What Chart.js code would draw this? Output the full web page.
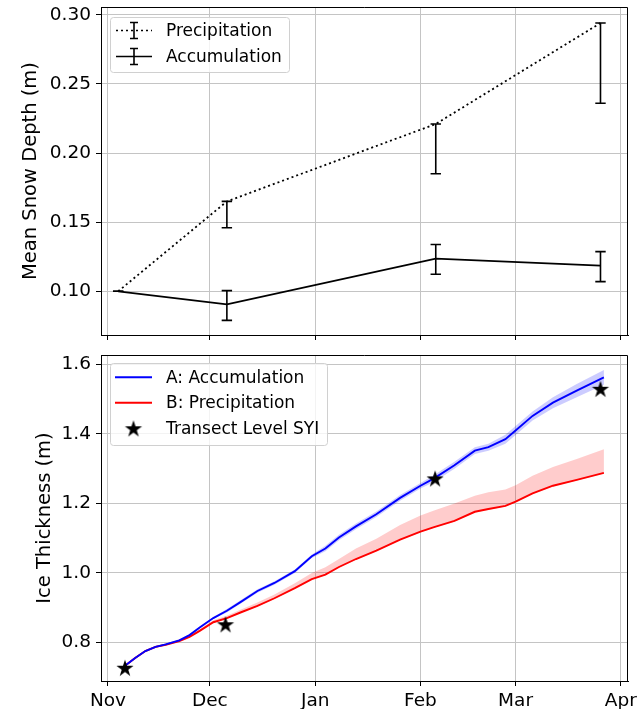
<!DOCTYPE html>
<html>
<head>
<meta charset="utf-8">
<script src="https://cdn.jsdelivr.net/npm/chart.js@4/dist/chart.umd.min.js"></script>
<style>
  html, body { margin: 0; padding: 0; background: #fff; }
  #wrap { position: relative; width: 639px; height: 709px; overflow: hidden; }
  canvas { position: absolute; left: 0; }
  #c1 { top: 0; }
  #c2 { top: 345px; }
</style>
</head>
<body>
<div id="wrap">
  <canvas id="c1" width="639" height="345"></canvas>
  <canvas id="c2" width="639" height="364"></canvas>
</div>
<script>
// ---------- DATA (days since 1 Nov) ----------
const monthTicks = [0, 30, 61, 92, 120, 151];
const monthLabels = ['Nov', 'Dec', 'Jan', 'Feb', 'Mar', 'Apr'];
const snowTicks = [0.10, 0.15, 0.20, 0.25, 0.30];
const iceTicks = [0.8, 1.0, 1.2, 1.4, 1.6];

// top panel: mean snow depth
const snowDays = [3, 35, 96.5, 145];
const precipMean = [0.100, 0.165, 0.221, 0.294];
const precipLow  = [0.100, 0.146, 0.185, 0.236];
const precipHigh = [0.100, 0.165, 0.221, 0.294];
const accumMean  = [0.100, 0.0905, 0.1236, 0.1186];
const accumLow   = [0.100, 0.079, 0.1123, 0.107];
const accumHigh  = [0.100, 0.1005, 0.1338, 0.1287];

// bottom panel: ice thickness
const iceDays = [5, 8, 11, 14, 17, 21, 24, 27, 31, 35, 39, 44, 49, 55, 60, 64, 68, 73, 79, 86, 92, 96, 102, 108, 112, 117, 120, 125, 131, 138, 146];
const accumIce = [0.733, 0.755, 0.775, 0.787, 0.794, 0.806, 0.821, 0.843, 0.870, 0.891, 0.916, 0.948, 0.971, 1.005, 1.048, 1.070, 1.102, 1.134, 1.169, 1.216, 1.251, 1.272, 1.310, 1.352, 1.362, 1.385, 1.410, 1.452, 1.490, 1.525, 1.563];
const accumIceUpper = [0.736, 0.758, 0.778, 0.790, 0.797, 0.809, 0.824, 0.846, 0.873, 0.896, 0.921, 0.953, 0.976, 1.010, 1.053, 1.078, 1.110, 1.142, 1.177, 1.224, 1.259, 1.282, 1.320, 1.362, 1.372, 1.398, 1.423, 1.465, 1.506, 1.544, 1.584];
const accumIceLower = [0.730, 0.752, 0.772, 0.784, 0.791, 0.803, 0.818, 0.840, 0.867, 0.886, 0.911, 0.943, 0.966, 1.000, 1.043, 1.062, 1.094, 1.126, 1.161, 1.208, 1.243, 1.262, 1.300, 1.342, 1.352, 1.372, 1.397, 1.439, 1.474, 1.506, 1.542];
const precipIce = [0.733, 0.755, 0.775, 0.787, 0.793, 0.804, 0.816, 0.833, 0.858, 0.870, 0.886, 0.905, 0.927, 0.956, 0.982, 0.995, 1.017, 1.040, 1.064, 1.096, 1.119, 1.132, 1.150, 1.176, 1.184, 1.193, 1.205, 1.229, 1.251, 1.268, 1.288];
const precipIceUpper = [0.735, 0.757, 0.777, 0.789, 0.796, 0.808, 0.821, 0.838, 0.864, 0.877, 0.894, 0.915, 0.938, 0.970, 1.000, 1.016, 1.040, 1.070, 1.098, 1.138, 1.165, 1.180, 1.200, 1.222, 1.232, 1.240, 1.252, 1.280, 1.305, 1.328, 1.356];
const precipIceLower = [0.731, 0.753, 0.773, 0.785, 0.791, 0.802, 0.814, 0.831, 0.856, 0.868, 0.884, 0.903, 0.925, 0.954, 0.980, 0.993, 1.015, 1.038, 1.062, 1.094, 1.117, 1.130, 1.148, 1.174, 1.182, 1.191, 1.203, 1.227, 1.249, 1.266, 1.286];

const syiDays = [5, 34.6, 96.3, 145];
const syiIce = [0.727, 0.852, 1.272, 1.530];

// ---------- helpers ----------
const FONT = 'DejaVu Sans';
const pts = (xs, ys) => xs.map((x, i) => ({x: x, y: ys[i]}));

function makeStar(R) {
  const s = Math.ceil(R * 2 + 2);
  const c = document.createElement('canvas');
  c.width = s; c.height = s;
  const g = c.getContext('2d');
  const cx = s / 2, cy = s / 2 + R * 0.1;
  const r = R * 0.381966;
  g.beginPath();
  for (let k = 0; k < 10; k++) {
    const rad = k % 2 === 0 ? R : r;
    const a = -Math.PI / 2 + k * Math.PI / 5;
    const px = cx + rad * Math.cos(a), py = cy + rad * Math.sin(a);
    if (k === 0) g.moveTo(px, py); else g.lineTo(px, py);
  }
  g.closePath();
  g.fillStyle = '#000';
  g.fill();
  return c;
}
const starImg = makeStar(9);

// top and right spines (left/bottom come from the axes' borders)
const frame = {
  id: 'frame',
  afterDraw(chart) {
    const {ctx, chartArea: a} = chart;
    ctx.save();
    ctx.strokeStyle = '#000';
    ctx.lineWidth = 1;
    const L = Math.round(a.left), R = Math.round(a.right) - 0.5, T = Math.round(a.top) + 0.5, B = Math.round(a.bottom);
    ctx.beginPath();
    ctx.moveTo(L, T); ctx.lineTo(R, T); ctx.lineTo(R, B);
    ctx.stroke();
    ctx.restore();
  }
};

const errorBars = {
  id: 'errorBars',
  afterDatasetsDraw(chart) {
    const {ctx} = chart;
    const xs = chart.scales.x, ys = chart.scales.y;
    chart.data.datasets.forEach(ds => {
      if (!ds.errLow) return;
      ctx.save();
      ctx.strokeStyle = '#000';
      ctx.lineWidth = 1.6;
      ds.data.forEach((p, j) => {
        const x = xs.getPixelForValue(p.x);
        const y1 = ys.getPixelForValue(ds.errLow[j]);
        const y2 = ys.getPixelForValue(ds.errHigh[j]);
        ctx.beginPath();
        ctx.moveTo(x, y1); ctx.lineTo(x, y2);
        ctx.moveTo(x - 5.2, y1); ctx.lineTo(x + 5.2, y1);
        ctx.moveTo(x - 5.2, y2); ctx.lineTo(x + 5.2, y2);
        ctx.stroke();
      });
      ctx.restore();
    });
  }
};

function drawLegendBox(ctx, x0, y0, x1, y1) {
  ctx.save();
  ctx.beginPath();
  ctx.roundRect(x0 + 0.5, y0 + 0.5, x1 - x0, y1 - y0, 3);
  ctx.fillStyle = 'rgba(255,255,255,0.8)';
  ctx.fill();
  ctx.strokeStyle = '#d0d0d0';
  ctx.lineWidth = 1;
  ctx.stroke();
  ctx.restore();
}

const topLegend = {
  id: 'topLegend',
  afterDraw(chart) {
    const ctx = chart.ctx;
    drawLegendBox(ctx, 110, 17, 289, 72);
    const rows = [
      {label: 'Precipitation', y: 30.5, dash: [2, 3]},
      {label: 'Accumulation', y: 56.5, dash: []}
    ];
    ctx.save();
    rows.forEach(r => {
      ctx.strokeStyle = '#000';
      ctx.lineWidth = 1.7;
      ctx.setLineDash(r.dash);
      ctx.beginPath(); ctx.moveTo(116, r.y); ctx.lineTo(152, r.y); ctx.stroke();
      ctx.setLineDash([]);
      ctx.lineWidth = 1.6;
      ctx.beginPath();
      ctx.moveTo(134, r.y - 8); ctx.lineTo(134, r.y + 8);
      ctx.moveTo(130, r.y - 8); ctx.lineTo(138, r.y - 8);
      ctx.moveTo(130, r.y + 8); ctx.lineTo(138, r.y + 8);
      ctx.stroke();
      ctx.fillStyle = '#000';
      ctx.font = '17px "' + FONT + '"';
      ctx.textBaseline = 'middle';
      ctx.textAlign = 'left';
      ctx.fillText(r.label, 166, r.y + 1);
    });
    ctx.restore();
  }
};

const bottomLegend = {
  id: 'bottomLegend',
  afterDraw(chart) {
    const ctx = chart.ctx;
    drawLegendBox(ctx, 110, 18, 327, 100);
    const rows = [
      {label: 'A: Accumulation', y: 32.3, color: '#0000ff'},
      {label: 'B: Precipitation', y: 57.8, color: '#ff0000'},
      {label: 'Transect Level SYI', y: 83.3, star: true}
    ];
    ctx.save();
    rows.forEach(r => {
      if (r.star) {
        ctx.drawImage(starImg, 133.5 - starImg.width / 2, r.y - starImg.height / 2);
      } else {
        ctx.strokeStyle = r.color;
        ctx.lineWidth = 1.9;
        ctx.beginPath(); ctx.moveTo(115, r.y); ctx.lineTo(152, r.y); ctx.stroke();
      }
      ctx.fillStyle = '#000';
      ctx.font = '17px "' + FONT + '"';
      ctx.textBaseline = 'middle';
      ctx.textAlign = 'left';
      ctx.fillText(r.label, 166, r.y + 1);
    });
    ctx.restore();
  }
};

function xScale(showLabels, height) {
  return {
    type: 'linear',
    min: -2.06, max: 153.1,
    afterBuildTicks: s => { s.ticks = monthTicks.map(v => ({value: v})); },
    afterFit: s => { s.height = height; s.paddingLeft = 0; s.paddingRight = 0; },
    ticks: {
      display: showLabels,
      autoSkip: false, maxRotation: 0,
      padding: 4,
      color: '#000',
      font: {family: FONT, size: 18.5},
      callback: v => { const i = monthTicks.indexOf(v); return i >= 0 ? monthLabels[i] : ''; }
    },
    grid: {color: '#c4c4c4', lineWidth: 1, tickColor: '#000', tickLength: 5, drawTicks: true},
    border: {color: '#000', width: 1}
  };
}

function yScale(min, max, ticks, title, titlePad, fmt) {
  return {
    type: 'linear', min: min, max: max,
    afterBuildTicks: s => { s.ticks = ticks.map(v => ({value: v})); },
    afterFit: s => { s.width = 101; s.paddingTop = 0; s.paddingBottom = 0; },
    ticks: {
      padding: 5, color: '#000',
      font: {family: FONT, size: 18.5},
      callback: v => v.toFixed(fmt)
    },
    grid: {color: '#c4c4c4', lineWidth: 1, tickColor: '#000', tickLength: 5},
    border: {color: '#000', width: 1},
    title: {
      display: true, text: title, color: '#000',
      font: {family: FONT, size: 19.5},
      padding: {top: titlePad, bottom: 0}
    }
  };
}

const common = {
  responsive: false,
  animation: false,
  devicePixelRatio: 1,
  plugins: {legend: {display: false}, tooltip: {enabled: false}},
  elements: {point: {radius: 0}, line: {tension: 0}}
};

// ---------- TOP CHART ----------
new Chart(document.getElementById('c1'), {
  type: 'line',
  data: {
    datasets: [
      {
        label: 'Precipitation', data: pts(snowDays, precipMean),
        errLow: precipLow, errHigh: precipHigh,
        borderColor: '#000', borderWidth: 1.8, borderDash: [2, 3], borderCapStyle: 'butt',
        pointRadius: 0, fill: false
      },
      {
        label: 'Accumulation', data: pts(snowDays, accumMean),
        errLow: accumLow, errHigh: accumHigh,
        borderColor: '#000', borderWidth: 1.8,
        pointRadius: 0, fill: false
      }
    ]
  },
  options: Object.assign({}, common, {
    layout: {padding: {left: 0, right: 11, top: 7, bottom: 0}},
    scales: {
      x: xScale(false, 10),
      y: yScale(0.0684, 0.3056, snowTicks, 'Mean Snow Depth (m)', 19, 2)
    }
  }),
  plugins: [errorBars, frame, topLegend]
});

// ---------- BOTTOM CHART ----------
new Chart(document.getElementById('c2'), {
  type: 'line',
  data: {
    datasets: [
      {label: 'starsSYI', data: pts(syiDays, syiIce), showLine: false,
       pointStyle: starImg, pointRadius: 9, order: 0},
      {label: 'A: Accumulation', data: pts(iceDays, accumIce), borderColor: '#0000ff', borderWidth: 1.9, fill: false, order: 1},
      {label: 'B: Precipitation', data: pts(iceDays, precipIce), borderColor: '#ff0000', borderWidth: 1.9, fill: false, order: 1},
      {label: 'aU', data: pts(iceDays, accumIceUpper), borderWidth: 0, borderColor: 'rgba(0,0,0,0)', backgroundColor: 'rgba(0,0,255,0.2)', fill: '+1', order: 2},
      {label: 'aL', data: pts(iceDays, accumIceLower), borderWidth: 0, borderColor: 'rgba(0,0,0,0)', fill: false, order: 2},
      {label: 'pU', data: pts(iceDays, precipIceUpper), borderWidth: 0, borderColor: 'rgba(0,0,0,0)', backgroundColor: 'rgba(255,0,0,0.2)', fill: '+1', order: 2},
      {label: 'pL', data: pts(iceDays, precipIceLower), borderWidth: 0, borderColor: 'rgba(0,0,0,0)', fill: false, order: 2}
    ]
  },
  options: Object.assign({}, common, {
    layout: {padding: {left: 0, right: 11, top: 9.5, bottom: 0}},
    scales: {
      x: xScale(true, 28),
      y: yScale(0.6888, 1.6273, iceTicks, 'Ice Thickness (m)', 33, 1)
    }
  }),
  plugins: [frame, bottomLegend]
});
</script>
</body>
</html>
